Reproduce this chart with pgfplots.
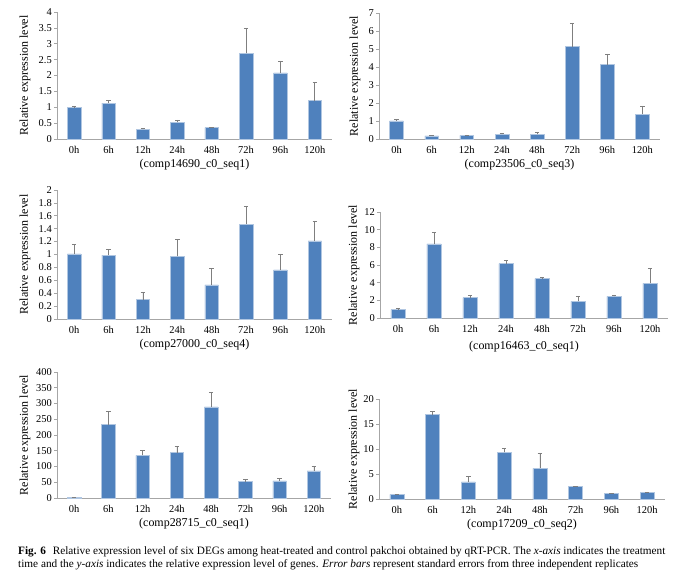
\documentclass[border=0pt]{standalone}
\usepackage{pgfplots}
\usepackage{pgfplotstable}
\pgfplotsset{compat=1.18}
\usepackage{fontspec}
\setmainfont{Liberation Serif}
\definecolor{barblue}{HTML}{4F81BD}
\definecolor{axgray}{HTML}{A6A6A6}
\definecolor{errgray}{HTML}{7F7F7F}

\pgfplotstableread{
x y e
0 0.99 0.05
1 1.13 0.08
2 0.30 0.04
3 0.52 0.08
4 0.36 0.01
5 2.70 0.78
6 2.08 0.38
7 1.21 0.56
}\dataA
\pgfplotstableread{
x y e
0 1.00 0.11
1 0.17 0.04
2 0.20 0.03
3 0.26 0.07
4 0.26 0.13
5 5.13 1.32
6 4.13 0.60
7 1.38 0.46
}\dataB
\pgfplotstableread{
x y e
0 1.01 0.15
1 0.99 0.09
2 0.30 0.12
3 0.97 0.27
4 0.53 0.25
5 1.47 0.28
6 0.76 0.25
7 1.21 0.31
}\dataC
\pgfplotstableread{
x y e
0 0.95 0.15
1 8.40 1.30
2 2.30 0.25
3 6.15 0.35
4 4.47 0.08
5 1.88 0.62
6 2.46 0.15
7 3.93 1.67
}\dataD
\pgfplotstableread{
x y e
0 1.0 0.0
1 233 43
2 135 15
3 144 21
4 289 46
5 52 6
6 54 9
7 86 16
}\dataE
\pgfplotstableread{
x y e
0 0.90 0.07
1 16.9 0.60
2 3.40 1.10
3 9.30 0.85
4 6.10 3.10
5 2.50 0.06
6 1.10 0.08
7 1.30 0.12
}\dataF

\pgfplotsset{
  panel/.style={
    scale only axis,
    anchor=south west,
    xmin=-0.5, xmax=7.5, ymin=0,
    axis lines=left,
    axis line style={-, axgray, line width=0.6bp},
    xtick={0,...,7},
    xticklabels={0h,6h,12h,24h,48h,72h,96h,120h},
    x tick style={draw=none},
    y tick style={axgray, line width=0.6bp},
    major tick length=3bp,
    tick align=outside,
    ticklabel style={font=\fontsize{10.5}{12}\selectfont, text=black},
    /pgf/number format/assume math mode=true,
    yticklabel style={inner sep=1bp, xshift=-1bp},
    xticklabel style={yshift=-1bp},
    label style={font=\fontsize{12}{14}\selectfont},
    ylabel={Relative expression level},
    xlabel style={at={(axis description cs:0.5,0)}, anchor=center, yshift=-26bp},
    clip=false,
  },
  ylpos/.style={ylabel style={at={(axis description cs:#1,0.5)}, anchor=center}},
  bars/.style={ybar, bar width=0.39, bar shift=0pt, fill=barblue, draw=barblue!45!white, line width=0.5bp,
    error bars/.cd, y dir=plus, y explicit,
    error bar style={errgray, line width=0.7bp},
    error mark options={rotate=90, mark size=2.2bp, errgray, line width=0.7bp}},
}

\begin{document}
\begin{tikzpicture}
\useasboundingbox (0bp,0bp) rectangle (680bp,582bp);

\begin{axis}[panel, at={(57bp,443bp)}, width=275bp, height=127bp, ymax=4,
  ytick={0,0.5,1,1.5,2,2.5,3,3.5,4}, ylpos=-0.116,
  xlabel={(comp14690\_c0\_seq1)}]
\addplot[bars] table[x=x,y=y,y error=e]{\dataA};
\end{axis}

\begin{axis}[panel, at={(379bp,443bp)}, width=281bp, height=126bp, ymax=7,
  ytick={0,1,...,7}, ylpos=-0.085,
  xlabel={(comp23506\_c0\_seq3)}]
\addplot[bars] table[x=x,y=y,y error=e]{\dataB};
\end{axis}

\begin{axis}[panel, at={(57bp,263bp)}, width=275bp, height=129bp, ymax=2,
  ytick={0,0.2,0.4,0.6,0.8,1,1.2,1.4,1.6,1.8,2}, ylpos=-0.116,
  xlabel={(comp27000\_c0\_seq4)}]
\addplot[bars] table[x=x,y=y,y error=e]{\dataC};
\end{axis}

\begin{axis}[panel, at={(380bp,264bp)}, width=288bp, height=106bp, ymax=12,
  ytick={0,2,...,12}, ylpos=-0.090,
  xlabel={(comp16463\_c0\_seq1)}, xlabel style={yshift=-3bp}]
\addplot[bars] table[x=x,y=y,y error=e]{\dataD};
\end{axis}

\begin{axis}[panel, at={(57bp,84bp)}, width=274bp, height=126bp, ymax=400,
  ytick={0,50,...,400}, ylpos=-0.117,
  xlabel={(comp28715\_c0\_seq1)}]
\addplot[bars] table[x=x,y=y,y error=e]{\dataE};
\end{axis}

\begin{axis}[panel, at={(379bp,83bp)}, width=286bp, height=100bp, ymax=20,
  ytick={0,5,...,20}, ylpos=-0.087,
  xlabel={(comp17209\_c0\_seq2)}]
\addplot[bars] table[x=x,y=y,y error=e]{\dataF};
\end{axis}

\node[anchor=base west, inner sep=0pt, font=\fontsize{11.3}{12.5}\selectfont] at (18bp,27.5bp)
{\textbf{Fig. 6}\hspace{0.6em}Relative expression level of six DEGs among heat-treated and control pakchoi obtained by qRT-PCR. The \textit{x-axis} indicates the treatment};
\node[anchor=base west, inner sep=0pt, font=\fontsize{11.3}{12.5}\selectfont] at (18bp,15bp)
{time and the \textit{y-axis} indicates the relative expression level of genes. \textit{Error bars} represent standard errors from three independent replicates};
\end{tikzpicture}
\end{document}
